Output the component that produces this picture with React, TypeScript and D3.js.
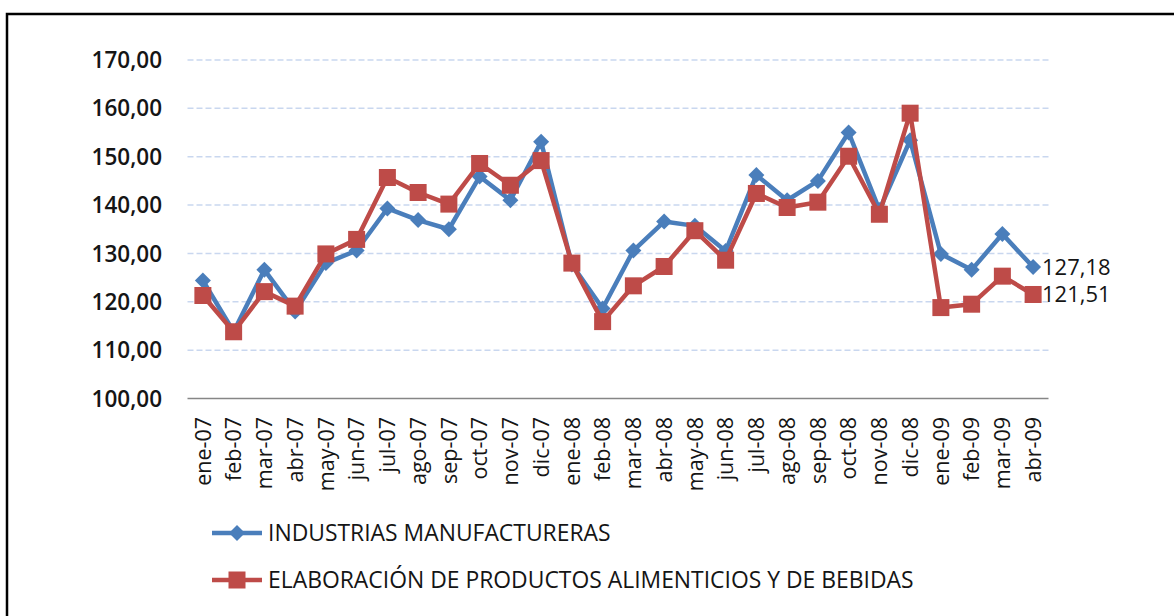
import React from "react";
import * as d3 from "d3";

const categories = [
  "ene-07","feb-07","mar-07","abr-07","may-07","jun-07","jul-07","ago-07","sep-07","oct-07","nov-07","dic-07",
  "ene-08","feb-08","mar-08","abr-08","may-08","jun-08","jul-08","ago-08","sep-08","oct-08","nov-08","dic-08",
  "ene-09","feb-09","mar-09","abr-09",
];
const industrias = [
  124.4, 113.8, 126.6, 118.0, 128.0, 130.6, 139.3, 136.9, 135.0, 145.9, 141.0, 153.1,
  127.7, 118.6, 130.6, 136.6, 135.7, 130.5, 146.2, 141.0, 145.0, 155.0, 139.0, 153.4,
  129.9, 126.6, 134.0, 127.18,
];
const alimentos = [
  121.3, 113.8, 122.1, 119.1, 129.9, 132.9, 145.7, 142.6, 140.2, 148.6, 144.1, 149.2,
  128.0, 115.9, 123.3, 127.3, 134.7, 128.6, 142.4, 139.5, 140.6, 150.1, 138.1, 159.0,
  118.8, 119.5, 125.3, 121.51,
];
const yTicks = [100, 110, 120, 130, 140, 150, 160, 170];
const seriesNames = [
  "INDUSTRIAS MANUFACTURERAS",
  "ELABORACIÓN DE PRODUCTOS ALIMENTICIOS Y DE BEBIDAS",
];
const endLabels = ["127,18", "121,51"];

const BLUE = "#4A7EBB";
const RED = "#BE4B48";
const FONT = "'Open Sans', 'Noto Sans', sans-serif";

export default function App() {
  const W = 1174, H = 616;
  const x = d3.scaleBand<string>().domain(categories).range([187.5, 1048.5]);
  const y = d3.scaleLinear().domain([100, 170]).range([398.5, 60]);
  const cx = (c: string) => (x(c) as number) + x.bandwidth() / 2;
  const fmt = (v: number) => d3.format(".2f")(v).replace(".", ",");
  const line = d3.line<number>().x((_, i) => cx(categories[i])).y((v) => y(v));
  const diamond = (px: number, py: number, r: number) =>
    `M${px},${py - r}L${px + r},${py}L${px},${py + r}L${px - r},${py}Z`;

  return (
    <svg width={W} height={H} style={{ position: "absolute", left: 0, top: 0, background: "#fff" }}>
      <rect x={7} y={14} width={1200} height={700} fill="none" stroke="#000" strokeWidth={2.5} />
      {yTicks.map((t) => (
        <g key={t}>
          {t !== 100 && (
            <line x1={187.5} x2={1048.5} y1={y(t)} y2={y(t)} stroke="#C9D7EF" strokeWidth={1.5} strokeDasharray="6 3" />
          )}
          <text x={162} y={y(t)} dy="0.36em" textAnchor="end" fontFamily={FONT} fontSize={22.5} fontWeight={600} fill="#151515">
            {fmt(t)}
          </text>
        </g>
      ))}
      <line x1={187.5} x2={1048.5} y1={y(100)} y2={y(100)} stroke="#868686" strokeWidth={1.5} />
      {categories.map((c) => (
        <text
          key={c}
          transform={`translate(${cx(c)},${417}) rotate(-90)`}
          dy="0.36em"
          textAnchor="end"
          fontFamily={FONT}
          fontSize={21.5}
          fill="#151515"
        >
          {c}
        </text>
      ))}
      <path d={line(industrias) || ""} fill="none" stroke={BLUE} strokeWidth={4.5} strokeLinejoin="round" />
      {industrias.map((v, i) => (
        <path key={"d" + i} d={diamond(cx(categories[i]), y(v), 8)} fill={BLUE} />
      ))}
      <path d={line(alimentos) || ""} fill="none" stroke={RED} strokeWidth={4.5} strokeLinejoin="round" />
      {alimentos.map((v, i) => (
        <rect key={"s" + i} x={cx(categories[i]) - 8.5} y={y(v) - 8.5} width={17} height={17} fill={RED} />
      ))}
      <text x={1042} y={y(industrias[industrias.length - 1])} dy="0.36em" fontFamily={FONT} fontSize={22} fill="#151515">
        {endLabels[0]}
      </text>
      <text x={1042} y={y(alimentos[alimentos.length - 1])} dy="0.36em" fontFamily={FONT} fontSize={22} fill="#151515">
        {endLabels[1]}
      </text>
      {seriesNames.map((n, i) => {
        const ly = 533 + i * 47;
        return (
          <g key={n}>
            <line x1={212} x2={262} y1={ly} y2={ly} stroke={i === 0 ? BLUE : RED} strokeWidth={4.5} />
            {i === 0 ? (
              <path d={diamond(237, ly, 8)} fill={BLUE} />
            ) : (
              <rect x={237 - 8.5} y={ly - 8.5} width={17} height={17} fill={RED} />
            )}
            <text x={268} y={ly} dy="0.36em" fontFamily={FONT} fontSize={22.9} fill="#151515">
              {n}
            </text>
          </g>
        );
      })}
    </svg>
  );
}
